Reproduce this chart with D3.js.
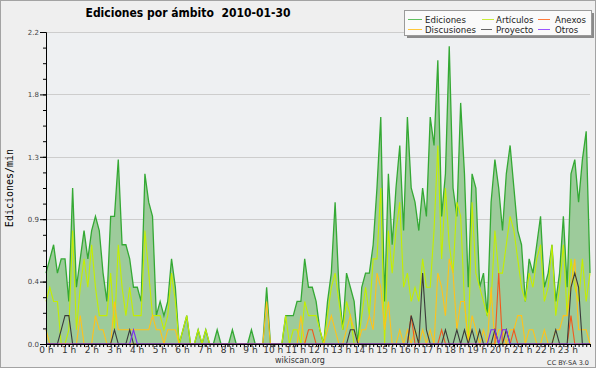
<!DOCTYPE html>
<html>
<head>
<meta charset="utf-8">
<script src="https://cdn.jsdelivr.net/npm/d3@7"></script>
<style>
body { margin: 0; background: #fff; }
svg text { font-family: "DejaVu Sans", sans-serif; }
</style>
</head>
<body>
<svg id="chart" width="600" height="370"></svg>
<script>
// one value per 10 minutes, edits per minute
const ediciones = [
    0.5, 0.6, 0.7, 0.5, 0.6, 0.6, 0.3, 1.1, 0.4, 0.6, 0.8, 0.6,
    0.8, 0.9, 0.8, 0.5, 0.3, 0.9, 0.9, 1.3, 0.7, 0.7, 0.6, 0.4,
    0.4, 0.3, 1.2, 1.0, 0.9, 0.2, 0.3, 0.2, 0.3, 0.6, 0.4, 0,
    0.1, 0.2, 0, 0, 0.1, 0, 0.1, 0, 0, 0.1, 0, 0,
    0, 0.1, 0, 0, 0, 0, 0.1, 0, 0, 0, 0.4, 0,
    0, 0, 0, 0.2, 0.2, 0.2, 0.3, 0.3, 0.6, 0.4, 0.4, 0.3,
    0.1, 0, 0.3, 0.5, 1.0, 0.4, 0.1, 0.5, 0.4, 0.3, 0, 0.4,
    0.5, 0.5, 0.7, 1.1, 1.6, 0.3, 1.2, 0.7, 1.1, 1.4, 0.8, 1.6,
    1.1, 1.0, 0.8, 1.1, 0.9, 1.6, 1.4, 2.0, 0.9, 1.2, 2.1, 1.1,
    0.9, 1.7, 1.2, 0.4, 1.2, 1.1, 0.4, 0.5, 0.2, 1.0, 1.3, 1.1,
    0.8, 1.2, 1.4, 1.1, 0.8, 0.7, 0.3, 0.6, 0.5, 0.7, 0.9, 0.4,
    0.5, 0.7, 0.3, 0.5, 0.9, 0.4, 1.2, 1.3, 1.0, 1.3, 1.5, 0.5];

const articulos = [
    0.3, 0.4, 0.3, 0.3, 0, 0, 0.1, 0.8, 0.1, 0.4, 0.6, 0.4,
    0.7, 0.4, 0.2, 0.2, 0.2, 0.5, 0.1, 0.7, 0.4, 0.2, 0.4, 0.2,
    0.2, 0.2, 0.8, 0.5, 0.2, 0.2, 0.2, 0.1, 0.2, 0.5, 0.3, 0,
    0.1, 0.2, 0, 0, 0.1, 0, 0.1, 0, 0, 0, 0, 0,
    0, 0, 0, 0, 0, 0, 0, 0, 0, 0, 0, 0,
    0, 0, 0, 0.2, 0, 0.1, 0.1, 0, 0.3, 0.2, 0.2, 0.2,
    0.1, 0, 0.2, 0.4, 0.5, 0.3, 0.1, 0.3, 0.2, 0, 0, 0.2,
    0.4, 0.2, 0.6, 0.6, 1.1, 0, 0.8, 0.5, 0.8, 1.0, 0.4, 0.5,
    0.3, 0.4, 0.3, 0.6, 0.4, 0.4, 0.8, 1.4, 0.6, 1.1, 0.7, 0.5,
    1.0, 0.9, 0.3, 0, 1.0, 0.5, 0.4, 0.3, 0.2, 0.3, 0.8, 0.5,
    0.5, 0.7, 0.9, 0.8, 0.6, 0.4, 0.3, 0.5, 0.4, 0.6, 0.7, 0.3,
    0.4, 0.7, 0.2, 0.4, 0.7, 0.2, 0.6, 0.4, 0.3, 0.6, 0.3, 0.5];

const discusiones = [
    0.1, 0, 0, 0, 0, 0, 0, 0, 0, 0.2, 0, 0,
    0, 0.2, 0.1, 0.1, 0, 0, 0.3, 0.1, 0.1, 0.1, 0.1, 0.1,
    0.1, 0.1, 0.1, 0.1, 0.2, 0.1, 0.1, 0, 0.1, 0.1, 0.1, 0,
    0, 0, 0, 0, 0, 0, 0, 0, 0, 0, 0, 0,
    0, 0, 0, 0, 0, 0, 0, 0, 0, 0, 0.3, 0,
    0, 0, 0, 0, 0, 0, 0, 0.2, 0, 0, 0, 0,
    0, 0, 0.1, 0.2, 0.1, 0, 0, 0.1, 0.2, 0.1, 0, 0.1,
    0.1, 0.2, 0.1, 0.5, 0.4, 0.1, 0.3, 0, 0, 0.1, 0, 0.1,
    0, 0.1, 0, 0.1, 0, 0.1, 0, 0.5, 0.4, 0.2, 0.6, 0.5,
    0.1, 0.3, 0.3, 0, 0.2, 0.1, 0, 0.1, 0, 0.4, 0, 0.1,
    0.1, 0, 0.1, 0.1, 0.2, 0.2, 0, 0.1, 0.1, 0, 0, 0.1,
    0, 0, 0.1, 0.1, 0.2, 0.2, 0.4, 0.6, 0.1, 0.1, 0.1, 0];

const anexos = [
    0, 0, 0, 0, 0, 0, 0, 0, 0, 0, 0, 0,
    0, 0, 0, 0, 0, 0, 0, 0, 0, 0, 0, 0,
    0, 0, 0, 0, 0, 0, 0, 0, 0, 0, 0, 0,
    0, 0, 0, 0, 0, 0, 0, 0, 0, 0, 0, 0,
    0, 0, 0, 0, 0, 0, 0, 0, 0, 0, 0, 0,
    0, 0, 0, 0, 0, 0, 0, 0, 0, 0.1, 0.1, 0,
    0, 0, 0, 0, 0, 0, 0, 0, 0, 0, 0, 0,
    0, 0, 0, 0, 0, 0, 0, 0, 0, 0, 0, 0,
    0.2, 0, 0, 0, 0, 0, 0, 0, 0.1, 0, 0, 0,
    0, 0, 0, 0, 0, 0, 0, 0, 0, 0, 0, 0.5,
    0, 0, 0, 0.1, 0, 0, 0, 0, 0, 0, 0, 0,
    0, 0, 0, 0, 0, 0, 0.2, 0, 0, 0, 0, 0];

const proyecto = [
    0, 0, 0, 0, 0.1, 0.2, 0.2, 0, 0, 0, 0, 0,
    0, 0, 0, 0, 0, 0, 0.1, 0, 0, 0, 0.1, 0,
    0, 0, 0, 0, 0, 0, 0, 0, 0, 0, 0, 0,
    0, 0, 0, 0, 0, 0, 0, 0, 0, 0, 0, 0,
    0, 0, 0, 0, 0, 0, 0, 0, 0, 0, 0, 0,
    0, 0, 0, 0, 0, 0, 0, 0, 0, 0, 0, 0,
    0, 0, 0, 0, 0, 0, 0, 0, 0.1, 0.1, 0, 0,
    0, 0, 0, 0, 0, 0, 0, 0, 0, 0, 0, 0,
    0.2, 0.1, 0, 0.5, 0.1, 0, 0, 0, 0, 0.1, 0, 0,
    0.1, 0, 0.1, 0, 0.1, 0, 0.1, 0, 0, 0, 0.1, 0,
    0, 0.1, 0, 0, 0, 0, 0, 0, 0, 0, 0, 0,
    0, 0, 0.1, 0, 0, 0, 0.4, 0.5, 0.4, 0, 0, 0];

const otros = [
    0, 0, 0, 0, 0, 0, 0, 0, 0, 0, 0, 0,
    0, 0, 0, 0, 0, 0, 0, 0, 0, 0, 0, 0.1,
    0, 0, 0, 0, 0, 0, 0, 0, 0, 0, 0, 0,
    0, 0, 0, 0, 0, 0, 0, 0, 0, 0, 0, 0,
    0, 0, 0, 0, 0, 0, 0, 0, 0, 0, 0, 0,
    0, 0, 0, 0, 0, 0, 0, 0, 0, 0, 0, 0,
    0, 0, 0, 0, 0, 0, 0, 0, 0, 0, 0, 0,
    0, 0, 0, 0, 0, 0, 0, 0, 0, 0, 0, 0,
    0, 0, 0, 0, 0, 0, 0, 0, 0, 0, 0, 0,
    0, 0, 0, 0, 0, 0, 0, 0, 0, 0.1, 0.1, 0,
    0.1, 0.1, 0, 0, 0, 0, 0, 0, 0, 0, 0, 0,
    0, 0, 0, 0, 0, 0, 0, 0, 0, 0, 0, 0];

const hours = d3.range(0, 24);
const yTicks = [0, 0.44, 0.88, 1.32, 1.76, 2.2];

const lineSeries = [
    {name: "Artículos", values: articulos, color: "#c4ee00"},
    {name: "Discusiones", values: discusiones, color: "#ffc21a"},
    {name: "Anexos", values: anexos, color: "#f2581c"},
    {name: "Proyecto", values: proyecto, color: "#3a3a3a"},
    {name: "Otros", values: otros, color: "#7b2bf2"}
];

const legendItems = [
    {name: "Ediciones", color: "#5fbf5f", x: 408, len: 14, tx: 425, row: 0},
    {name: "Discusiones", color: "#ffc83a", x: 408, len: 14, tx: 425, row: 1},
    {name: "Artículos", color: "#c8ec38", x: 482, len: 12, tx: 496, row: 0},
    {name: "Proyecto", color: "#666666", x: 481, len: 11, tx: 496, row: 1},
    {name: "Anexos", color: "#ff7a3a", x: 538, len: 12, tx: 555, row: 0},
    {name: "Otros", color: "#9a55ff", x: 538, len: 12, tx: 555, row: 1}
];

const svg = d3.select("#chart");

// frame
svg.append("rect")
    .attr("x", 0.5).attr("y", 0.5)
    .attr("width", 595).attr("height", 367)
    .attr("fill", "#efefef")
    .attr("stroke", "#a3a3a3");

const plotL = 46, plotR = 590, plotT = 32, plotB = 344;

const x = d3.scaleLinear().domain([0, ediciones.length - 1]).range([plotL, plotR]);
const xh = d3.scaleLinear().domain([0, 24]).range([plotL, plotR]);
const y = d3.scaleLinear().domain([0, 2.2]).range([plotB, plotT]);

svg.append("rect")
    .attr("x", plotL).attr("y", plotT)
    .attr("width", plotR - plotL).attr("height", plotB - plotT)
    .attr("fill", "#eef0f2");

// grid
svg.append("g").selectAll("line")
    .data(yTicks.slice(1))
    .join("line")
    .attr("x1", plotL).attr("x2", plotR)
    .attr("y1", d => Math.round(y(d)) + 0.5)
    .attr("y2", d => Math.round(y(d)) + 0.5)
    .attr("stroke", "#cdcdcd");

const area = d3.area()
    .x((d, i) => x(i))
    .y0(y(0))
    .y1(d => y(d));

const line = d3.line()
    .x((d, i) => x(i))
    .y(d => y(d));

svg.append("path")
    .datum(ediciones)
    .attr("d", area)
    .attr("fill", "#9dcb9b");

svg.append("path")
    .datum(ediciones)
    .attr("d", line)
    .attr("fill", "none")
    .attr("stroke", "#34a934")
    .attr("stroke-width", 1.3);

lineSeries.forEach(s => {
    svg.append("path")
        .datum(s.values)
        .attr("d", line)
        .attr("fill", "none")
        .attr("stroke", s.color)
        .attr("stroke-width", 1.1);
});

// y axis
svg.append("g")
    .attr("transform", "translate(" + plotL + ",0)")
    .call(d3.axisLeft(y).tickValues(d3.range(0, 21).map(i => i * 0.11)).tickFormat("").tickSize(3).tickSizeOuter(0));

const yAxis = svg.append("g")
    .attr("transform", "translate(" + plotL + ",0)")
    .call(d3.axisLeft(y).tickValues(yTicks).tickFormat(d3.format(".1f")).tickSize(6).tickSizeOuter(0).tickPadding(1));

yAxis.selectAll("text")
    .style("font-size", "7px")
    .attr("fill", "#444");

// x axis
svg.append("g")
    .attr("transform", "translate(0," + plotB + ")")
    .call(d3.axisBottom(x).tickValues(d3.range(0, ediciones.length)).tickFormat("").tickSize(3).tickSizeOuter(0));

const xAxis = svg.append("g")
    .attr("transform", "translate(0," + plotB + ")")
    .call(d3.axisBottom(xh).tickValues(hours).tickFormat(d => d + " h").tickSize(3).tickSizeOuter(0).tickPadding(0));

xAxis.selectAll("text")
    .style("font-size", "9px")
    .attr("fill", "#333");

svg.selectAll(".domain").attr("stroke", "#000");
svg.selectAll(".tick line").attr("stroke", "#000");

// titles
svg.append("text")
    .attr("x", 188).attr("y", 17)
    .attr("text-anchor", "middle")
    .style("font-size", "13px")
    .style("font-weight", "bold")
    .style("white-space", "pre")
    .attr("textLength", 205)
    .attr("lengthAdjust", "spacingAndGlyphs")
    .text("Ediciones por ámbito  2010-01-30");

svg.append("text")
    .attr("transform", "translate(13,188) rotate(-90)")
    .attr("text-anchor", "middle")
    .style("font-family", "'DejaVu Sans Mono', monospace")
    .style("font-size", "10px")
    .text("Ediciones/min");

svg.append("text")
    .attr("x", 300).attr("y", 363)
    .attr("text-anchor", "middle")
    .style("font-size", "8px")
    .attr("fill", "#333")
    .text("wikiscan.org");

svg.append("text")
    .attr("x", 589).attr("y", 365)
    .attr("text-anchor", "end")
    .style("font-size", "6.5px")
    .attr("fill", "#333")
    .text("CC BY-SA 3.0");

// legend
const legend = svg.append("g");
legend.append("rect")
    .attr("x", 407).attr("y", 13)
    .attr("width", 187).attr("height", 25)
    .attr("fill", "#8a8a8a");
legend.append("rect")
    .attr("x", 404.5).attr("y", 10.5)
    .attr("width", 187).attr("height", 25)
    .attr("fill", "#fafafa")
    .attr("stroke", "#9a9a9a");

legendItems.forEach(d => {
    const ly = d.row === 0 ? 19.5 : 29.5;
    legend.append("line")
        .attr("x1", d.x).attr("x2", d.x + d.len)
        .attr("y1", ly).attr("y2", ly)
        .attr("stroke", d.color)
        .attr("stroke-width", 1);
    legend.append("text")
        .attr("x", d.tx).attr("y", ly + 3)
        .style("font-size", "8.6px")
        .attr("fill", "#222")
        .text(d.name);
});
</script>
</body>
</html>
